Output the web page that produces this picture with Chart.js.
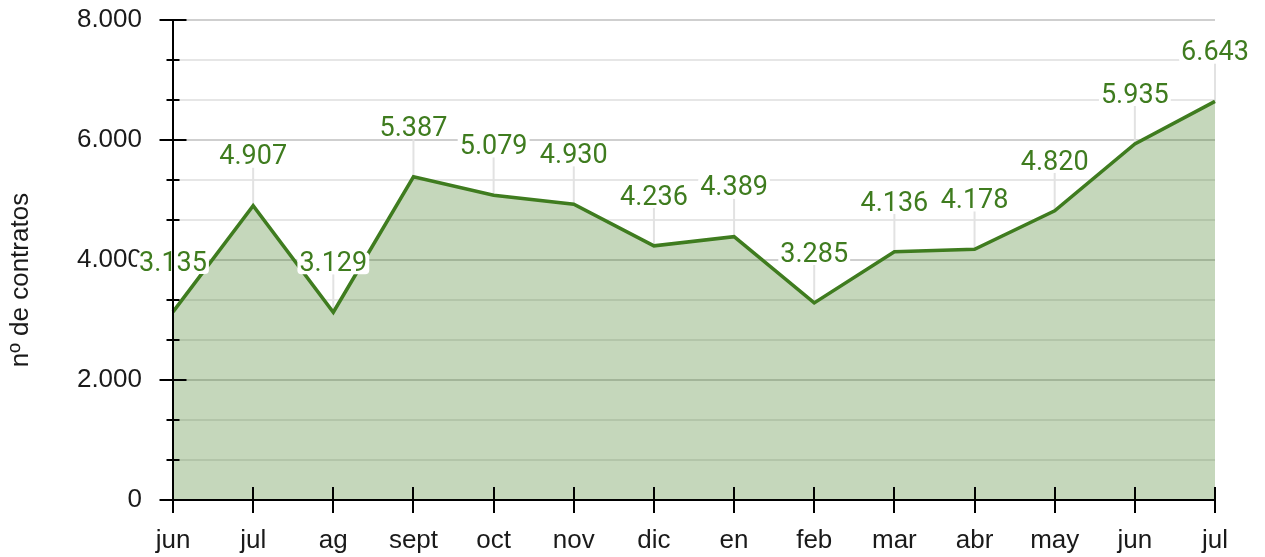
<!DOCTYPE html>
<html>
<head>
<meta charset="utf-8">
<script src="https://cdn.jsdelivr.net/npm/chart.js@4/dist/chart.umd.min.js"></script>
<style>
  html, body { margin: 0; padding: 0; background: #ffffff; }
  #wrap { width: 1265px; height: 557px; position: relative; }
</style>
</head>
<body>
<div id="wrap"><canvas id="c" width="1265" height="557"></canvas></div>
<script>
const categories = ['jun', 'jul', 'ag', 'sept', 'oct', 'nov', 'dic', 'en', 'feb', 'mar', 'abr', 'may', 'jun', 'jul'];
const contratos = [3135, 4907, 3129, 5387, 5079, 4930, 4236, 4389, 3285, 4136, 4178, 4820, 5935, 6643];
const yMajorTicks = [0, 2000, 4000, 6000, 8000];
const yTickLabels = ['0', '2.000', '4.000', '6.000', '8.000'];
const yMinorPerMajor = 3;
const yTitle = 'nº de contratos';

const GREEN = 'rgb(63,124,31)';
const FILL = 'rgba(63,124,31,0.3)';

function fmt(v) {
  return String(v).replace(/\B(?=(\d{3})+(?!\d))/g, '.');
}

// all y grid positions (major + minor) from major ticks
const yAllTicks = [];
for (let i = 0; i < yMajorTicks.length - 1; i++) {
  const a = yMajorTicks[i], b = yMajorTicks[i + 1];
  for (let k = 0; k < yMinorPerMajor; k++) yAllTicks.push(a + (b - a) * k / yMinorPerMajor);
}
yAllTicks.push(yMajorTicks[yMajorTicks.length - 1]);
function majorIndex(v) {
  return yMajorTicks.findIndex(m => Math.abs(m - v) < 1e-6);
}

const LABEL_OFFSET = 49;
const LABEL_H = 22;

const labelPlugin = {
  id: 'labelPlugin',
  beforeDatasetsDraw(chart) {
    const ctx = chart.ctx;
    const meta = chart.getDatasetMeta(0);
    ctx.save();
    ctx.strokeStyle = '#e2e2e2';
    ctx.lineWidth = 2;
    meta.data.forEach(pt => {
      ctx.beginPath();
      ctx.moveTo(pt.x, pt.y);
      ctx.lineTo(pt.x, pt.y - LABEL_OFFSET + LABEL_H / 2);
      ctx.stroke();
    });
    ctx.restore();
  },
  afterDatasetsDraw(chart) {
    const ctx = chart.ctx;
    const area = chart.chartArea;
    const xs = chart.scales.x, ys = chart.scales.y;
    ctx.save();
    // custom axis ticks
    ctx.strokeStyle = '#000';
    ctx.lineWidth = 2;
    yAllTicks.forEach(v => {
      const y = Math.round(ys.getPixelForValue(v));
      const major = majorIndex(v) >= 0;
      const half = major ? 13.5 : 6.5;
      ctx.beginPath();
      ctx.moveTo(area.left - half, y);
      ctx.lineTo(area.left + half, y);
      ctx.stroke();
    });
    categories.forEach((c, i) => {
      const x = Math.round(xs.getPixelForValue(i));
      ctx.beginPath();
      ctx.moveTo(x, area.bottom - 13);
      ctx.lineTo(x, area.bottom + 13);
      ctx.stroke();
    });
    // data labels
    const meta = chart.getDatasetMeta(0);
    ctx.font = '27px Roboto';
    ctx.textAlign = 'center';
    ctx.textBaseline = 'middle';
    meta.data.forEach((pt, i) => {
      const txt = fmt(contratos[i]);
      const w = ctx.measureText(txt).width + 4;
      const cy = pt.y - LABEL_OFFSET;
      ctx.fillStyle = '#ffffff';
      ctx.beginPath();
      ctx.roundRect(pt.x - w / 2, cy - LABEL_H / 2, w, LABEL_H, 4);
      ctx.fill();
      ctx.fillStyle = GREEN;
      ctx.fillText(txt, pt.x, cy + 1);
    });
    // axis title
    ctx.font = '26px "Liberation Sans"';
    ctx.fillStyle = '#1a1a1a';
    ctx.translate(21, 280);
    ctx.rotate(-Math.PI / 2);
    ctx.fillText(yTitle, 0, 0);
    ctx.restore();
  }
};

new Chart(document.getElementById('c'), {
  type: 'line',
  data: {
    labels: categories,
    datasets: [{
      data: contratos,
      borderColor: GREEN,
      backgroundColor: FILL,
      borderWidth: 3.5,
      fill: 'origin',
      tension: 0,
      pointRadius: 0,
      pointHoverRadius: 0
    }]
  },
  options: {
    responsive: false,
    animation: false,
    events: [],
    layout: { padding: { top: 20, right: 50, left: 0, bottom: 0 } },
    plugins: { legend: { display: false }, tooltip: { enabled: false } },
    scales: {
      x: {
        offset: false,
        grid: { display: false, drawTicks: false },
        border: { display: true, color: '#000', width: 2, z: 1 },
        ticks: {
          color: '#1a1a1a',
          font: { family: '"Liberation Sans"', size: 26 },
          padding: 25,
          maxRotation: 0,
          autoSkip: false
        },
        afterFit(scale) {
          scale.height = 57;
          scale.paddingLeft = 0;
          scale.paddingRight = 0;
        }
      },
      y: {
        min: 0,
        max: 8000,
        afterBuildTicks(scale) {
          scale.ticks = yAllTicks.map(v => ({ value: v }));
        },
        grid: {
          drawTicks: false,
          lineWidth: 2,
          color(ctx) {
            const v = ctx.tick ? ctx.tick.value : 0;
            return majorIndex(v) >= 0 ? '#cfcfcf' : '#e6e6e6';
          }
        },
        border: { display: true, color: '#000', width: 2, z: 1 },
        ticks: {
          color: '#1a1a1a',
          font: { family: '"Liberation Sans"', size: 26 },
          padding: 31,
          autoSkip: false,
          callback(value) {
            const idx = majorIndex(value);
            return idx >= 0 ? yTickLabels[idx] : '';
          }
        },
        afterFit(scale) {
          scale.width = 173;
          scale.paddingTop = 0;
          scale.paddingBottom = 0;
        }
      }
    }
  },
  plugins: [labelPlugin]
});
</script>
</body>
</html>
